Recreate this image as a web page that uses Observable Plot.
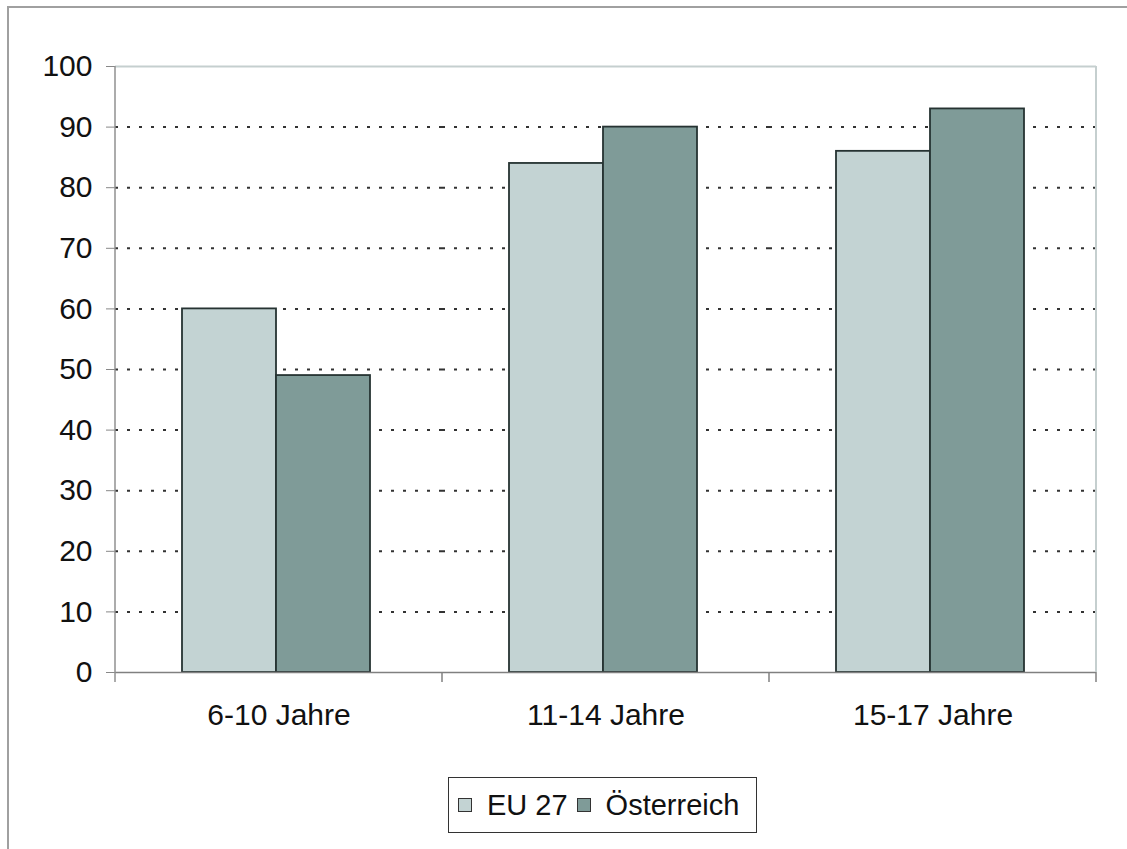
<!DOCTYPE html>
<html>
<head>
<meta charset="utf-8">
<script src="https://cdn.jsdelivr.net/npm/d3@7"></script>
<script src="https://cdn.jsdelivr.net/npm/@observablehq/plot@0.6"></script>
<style>
  body { margin: 0; background: #fff; font-family: "Liberation Sans", Arial, sans-serif; }
  #frame { position: absolute; left: 7px; top: 6px; width: 1140px; height: 860px; border-left: 2px solid #a0a0a0; border-top: 2px solid #a0a0a0; }
  #chart { position: absolute; left: 0; top: 0; }
  #legend { position: absolute; left: 448px; top: 777px; width: 309px; height: 56px; box-sizing: border-box;
            border: 1.5px solid #333; display: flex; align-items: center; padding-left: 9px; color: #111; font-size: 29px; }
  #legend .sw { width: 12px; height: 12px; border: 1.5px solid #333; margin-right: 15px; }
  #legend .lab { margin-right: 9px; }
</style>
</head>
<body>
<div id="frame"></div>
<div id="chart"></div>
<div id="legend"></div>
<script>
const categories = ["6-10 Jahre", "11-14 Jahre", "15-17 Jahre"];
const series = ["EU 27", "Österreich"];
const eu27 = [60, 84, 86];
const oesterreich = [49, 90, 93];
const colors = ["#c3d3d3", "#7f9b98"];
const yTicks = [0, 10, 20, 30, 40, 50, 60, 70, 80, 90, 100];

const values = [eu27, oesterreich];
const data = [];
categories.forEach((c, i) => series.forEach((s, j) => data.push({category: c, series: s, value: values[j][i]})));
const gridTicks = yTicks.filter(t => t > 0 && t < 100);

const chart = Plot.plot({
  width: 1127,
  height: 760,
  marginLeft: 115,
  marginRight: 31,
  marginTop: 66,
  marginBottom: 88,
  style: {fontFamily: "'Liberation Sans', Arial, sans-serif", fontSize: "30px", background: "transparent", color: "#111"},
  fx: {domain: categories, paddingInner: 0, paddingOuter: 0, label: null},
  x: {domain: series, paddingInner: 0, paddingOuter: 0.73, align: 0.48, axis: null},
  y: {domain: [0, 100], label: null},
  color: {domain: series, range: colors},
  marks: [
    Plot.ruleY(gridTicks, {stroke: "#333", strokeWidth: 2, strokeDasharray: "3,9"}),
    Plot.ruleY([100], {stroke: "#c5cfcf", strokeWidth: 2}),
    Plot.barY(data, {fx: "category", x: "series", y: "value", fill: "series", stroke: "#263332", strokeWidth: 1.8}),
    Plot.ruleY([0], {stroke: "#808080", strokeWidth: 1.5}),
    Plot.axisY({ticks: yTicks, tickSize: 9, tickPadding: 14, stroke: "#888", fill: "#111", fontSize: 30, label: null}),
    Plot.axisFx({anchor: "bottom", tickSize: 0, tickPadding: 31, fill: "#111", fontSize: 30, label: null})
  ]
});
document.getElementById("chart").appendChild(chart);

// axis lines and category boundary ticks from the plot's own scales
const svg = d3.select(chart.tagName.toLowerCase() === "svg" ? chart : chart.querySelector("svg"));
const y = chart.scale("y"), fx = chart.scale("fx");
const y0 = y.apply(0), y100 = y.apply(100);
const xs = categories.map(c => fx.apply(c));
const bw = fx.bandwidth;
const left = xs[0], right = xs[xs.length - 1] + bw;
const g = svg.append("g");
g.append("line").attr("x1", right).attr("x2", right).attr("y1", y100).attr("y2", y0)
  .attr("stroke", "#c5cfcf").attr("stroke-width", 2);
g.append("line").attr("x1", left).attr("x2", left).attr("y1", y100).attr("y2", y0 + 10)
  .attr("stroke", "#909090").attr("stroke-width", 1.5);
const bounds = xs.concat([right]).slice(1);
bounds.forEach(b => g.append("line").attr("x1", b).attr("x2", b).attr("y1", y0).attr("y2", y0 + 10)
  .attr("stroke", "#808080").attr("stroke-width", 1.5));

// legend
const legend = document.getElementById("legend");
series.forEach((s, i) => {
  const sw = document.createElement("span");
  sw.className = "sw";
  sw.style.background = colors[i];
  const lab = document.createElement("span");
  lab.className = "lab";
  lab.textContent = s;
  legend.appendChild(sw);
  legend.appendChild(lab);
});
</script>
</body>
</html>
